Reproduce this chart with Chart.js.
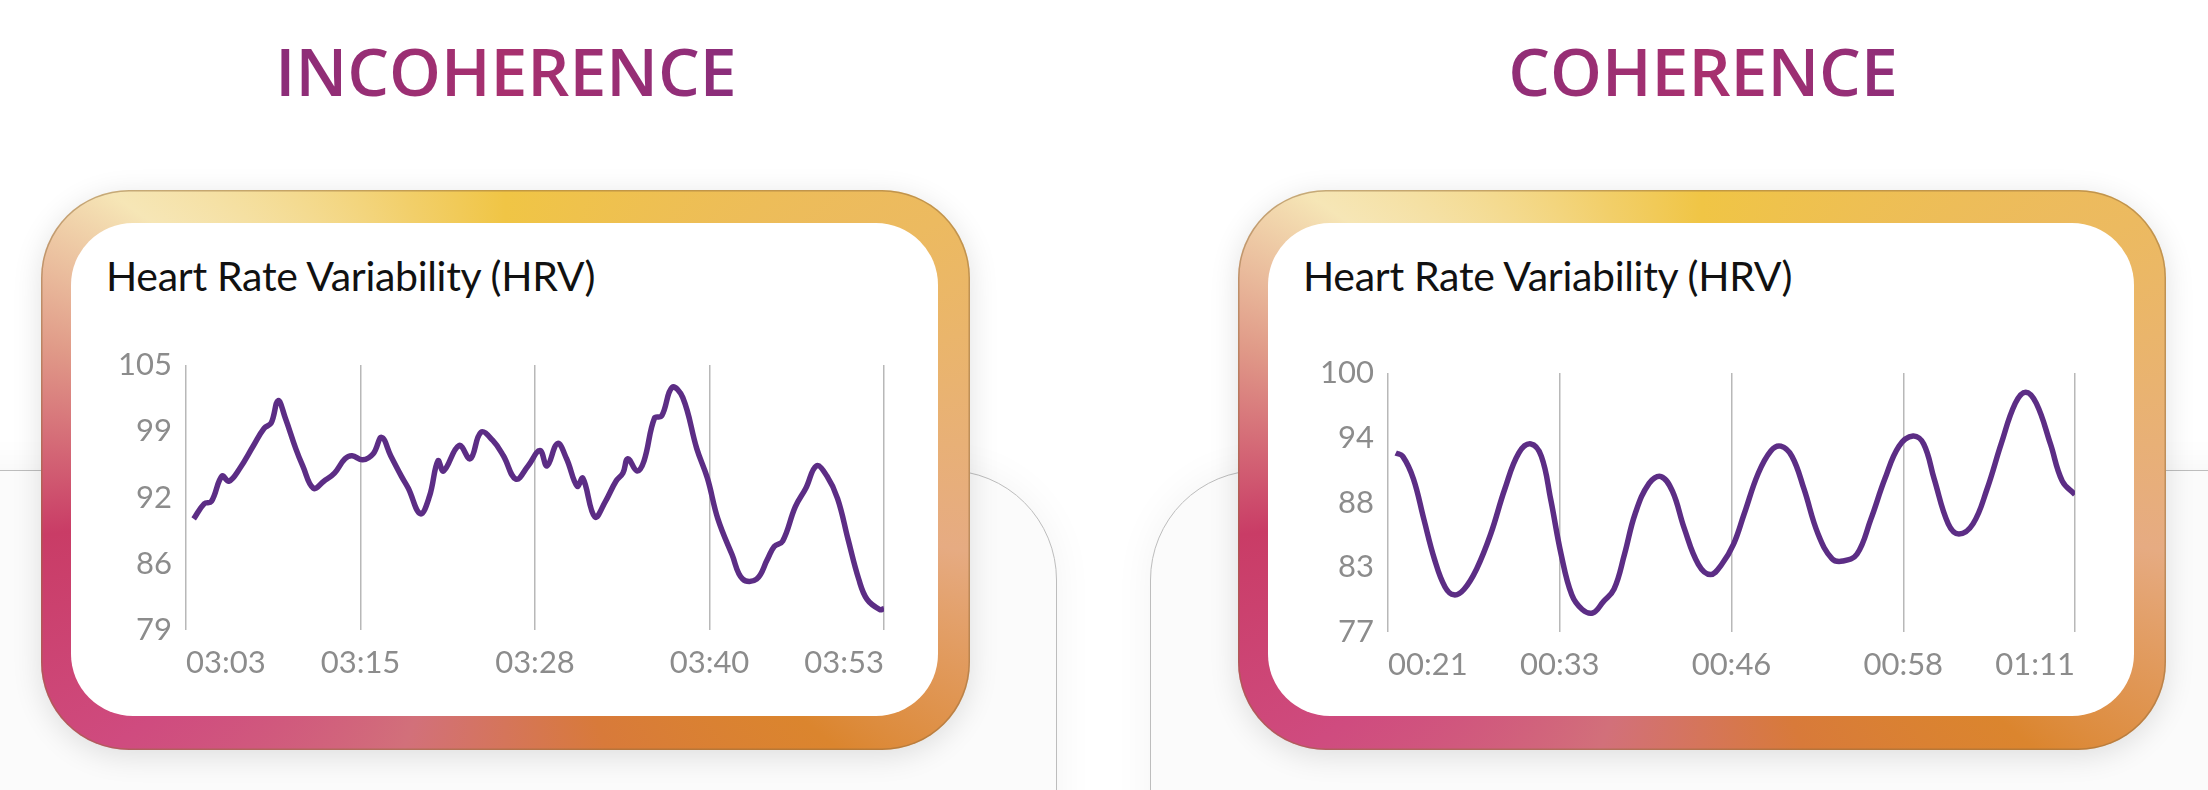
<!DOCTYPE html>
<html>
<head>
<meta charset="utf-8">
<script src="https://cdn.jsdelivr.net/npm/chart.js@4"></script>
<style>
    html, body { margin: 0; padding: 0; background: #fff; }
    body { width: 2208px; height: 790px; position: relative; overflow: hidden; font-family: Lato, sans-serif; }
    .heading {
        position: absolute; top: 30px; width: 700px; text-align: center;
        font-family: "Open Sans", sans-serif; font-weight: 600; font-size: 66px; line-height: 80px;
        background: linear-gradient(90deg, #7c2b7e, #a8306e 50%, #7a2b82);
        -webkit-background-clip: text; background-clip: text; color: transparent;
    }
    .backdrop {
        position: absolute; top: 470px; height: 500px; border: 1.5px solid #bdbdbd;
        border-radius: 110px; background: #fbfbfb; box-shadow: 0 0 40px rgba(0,0,0,0.05);
    }
    .card {
        position: absolute; top: 190px; height: 560px; border-radius: 88px;
        background: conic-gradient(from 0deg, #f0c545 0deg, #ecba60 60deg, #e6ab82 100deg, #db852e 130deg,
            #d87a3a 160deg, #d2707a 200deg, #cf4b7f 235deg, #c93c66 262deg, #e09a88 285deg, #f6e6b6 305deg,
            #f2cf6a 340deg, #f0c545 360deg);
        box-shadow: 0 6px 30px rgba(0,0,0,0.12), inset 0 0 0 1.5px rgba(150,110,60,0.5);
    }
    .inner { position: absolute; left: 30px; right: 32px; top: 33px; bottom: 34px; background: #fff; border-radius: 62px; }
    .inner canvas { position: absolute; left: 0; top: 0; }
    .ctitle { position: absolute; left: 35px; top: 28px; font-size: 41px; color: #111; font-weight: 400; letter-spacing: -0.3px; }
</style>
</head>
<body>
<div class="heading" style="left:156px">INCOHERENCE</div>
<div class="heading" style="left:1353px">COHERENCE</div>
<div class="backdrop" style="left:-200px; width:1255px"></div>
<div class="backdrop" style="left:1150px; width:1200px"></div>

<div class="card" style="left:41px; width:929px">
    <div class="inner"><div class="ctitle">Heart Rate Variability (HRV)</div><canvas id="incoherence"></canvas></div>
</div>
<div class="card" style="left:1238px; width:928px">
    <div class="inner"><div class="ctitle">Heart Rate Variability (HRV)</div><canvas id="coherence"></canvas></div>
</div>

<script>
// Incoherence trace: position along the time axis (0..4 gridlines) and HRV value
const incoherenceX = [0.044, 0.105, 0.145, 0.206, 0.246, 0.306, 0.387, 0.448, 0.488, 0.528, 0.569, 0.629, 0.669,
    0.730, 0.790, 0.851, 0.911, 0.952, 1.012, 1.073, 1.121, 1.173, 1.234, 1.274, 1.343, 1.395, 1.444, 1.476, 1.565,
    1.629, 1.690, 1.758, 1.819, 1.891, 1.960, 2.028, 2.069, 2.129, 2.181, 2.242, 2.274, 2.343, 2.403, 2.464, 2.504,
    2.532, 2.585, 2.625, 2.685, 2.726, 2.786, 2.847, 2.927, 2.988, 3.048, 3.129, 3.190, 3.270, 3.331, 3.371, 3.419,
    3.492, 3.552, 3.613, 3.673, 3.734, 3.794, 3.855, 3.903, 3.976, 4.0];
const incoherenceY = [89.9, 91.4, 91.6, 94.1, 93.6, 94.8, 97.1, 98.8, 99.3, 101.5, 99.8, 96.8, 95.1,
    92.9, 93.6, 94.4, 95.8, 96.1, 95.7, 96.3, 97.9, 96.1, 94.1, 92.9, 90.4, 92.1, 95.6, 94.6, 97.1,
    95.8, 98.4, 97.6, 96.1, 93.8, 95.1, 96.6, 95.1, 97.3, 95.8, 93.1, 93.9, 90.1, 91.6, 93.6, 94.4,
    95.8, 94.6, 95.6, 99.8, 100.0, 102.8, 101.8, 96.8, 93.9, 89.9, 86.4, 84.0, 84.0, 85.9, 87.2, 87.7,
    91.1, 92.9, 95.1, 94.1, 91.9, 87.9, 84.0, 82.0, 81.0, 81.1];
const incoherenceTicks = ["03:03", "03:15", "03:28", "03:40", "03:53"];
const incoherenceYLabels = ["79", "86", "92", "99", "105"];

const coherenceX = [0.045, 0.086, 0.148, 0.209, 0.270, 0.332, 0.385, 0.443, 0.516, 0.598, 0.680, 0.762, 0.832,
    0.893, 0.947, 1.008, 1.070, 1.131, 1.193, 1.254, 1.316, 1.377, 1.439, 1.520, 1.590, 1.656, 1.725, 1.807, 1.877,
    1.943, 2.012, 2.074, 2.156, 2.230, 2.287, 2.352, 2.422, 2.504, 2.586, 2.648, 2.730, 2.811, 2.893, 2.975, 3.057,
    3.119, 3.180, 3.262, 3.324, 3.406, 3.488, 3.570, 3.652, 3.713, 3.775, 3.857, 3.926, 4.0];
const coherenceY = [92.9, 92.6, 90.6, 87.0, 83.5, 81.0, 80.3, 80.8, 82.6, 85.7, 89.7, 92.9, 93.7,
    92.6, 88.8, 83.9, 80.3, 79.0, 78.7, 79.7, 80.8, 83.9, 87.5, 90.2, 90.8, 89.5, 86.2, 83.0, 82.1,
    83.0, 84.8, 87.5, 91.1, 93.1, 93.5, 92.6, 89.7, 85.7, 83.5, 83.3, 83.9, 87.0, 90.6, 93.5, 94.4,
    93.7, 90.6, 86.6, 85.7, 86.6, 89.7, 93.7, 97.3, 98.3, 97.3, 93.7, 90.4, 89.2];
const coherenceTicks = ["00:21", "00:33", "00:46", "00:58", "01:11"];
const coherenceYLabels = ["77", "83", "88", "94", "100"];

const tickFont = "31px Lato, sans-serif";
const tickColor = "#8c8c8c";

// draws the axis labels at positions taken from the chart scales
const labelPlugin = {
    id: "axisLabels",
    afterDraw(chart, args, opts) {
        const ctx = chart.ctx;
        const xs = chart.scales.x;
        const ys = chart.scales.y;
        ctx.save();
        ctx.font = tickFont;
        ctx.fillStyle = tickColor;
        ctx.textBaseline = "middle";
        ctx.textAlign = "right";
        opts.yLabels.forEach((label, i) => {
            const value = ys.min + (ys.max - ys.min) * i / (opts.yLabels.length - 1);
            ctx.fillText(label, xs.left - 14, ys.getPixelForValue(value));
        });
        const last = opts.xLabels.length - 1;
        opts.xLabels.forEach((label, i) => {
            ctx.textAlign = i === 0 ? "left" : (i === last ? "right" : "center");
            ctx.fillText(label, xs.getPixelForValue(i), ys.bottom + 33);
        });
        ctx.restore();
    }
};

function renderChart(canvasId, xValues, yValues, xLabels, yLabels, yMin, yMax, padding) {
    const canvas = document.getElementById(canvasId);
    const box = canvas.parentElement;
    canvas.width = box.clientWidth;
    canvas.height = box.clientHeight;
    return new Chart(canvas.getContext("2d"), {
        type: "line",
        data: {
            datasets: [{
                data: xValues.map((x, i) => ({x: x, y: yValues[i]})),
                borderColor: "#5c2d85",
                borderWidth: 5.5,
                pointRadius: 0,
                tension: 0.4,
                fill: false
            }]
        },
        options: {
            responsive: false,
            animation: false,
            layout: {padding: padding},
            plugins: {legend: {display: false}, tooltip: {enabled: false}, axisLabels: {xLabels, yLabels}},
            scales: {
                x: {
                    type: "linear", min: 0, max: 4,
                    ticks: {display: false, stepSize: 1},
                    grid: {color: "#b8b8b8", lineWidth: 1.5, drawTicks: false},
                    border: {display: false}
                },
                y: {min: yMin, max: yMax, display: false}
            }
        },
        plugins: [labelPlugin]
    });
}

// card inner boxes: left (71,223) right (1268,223)
renderChart("incoherence", incoherenceX, incoherenceY, incoherenceTicks, incoherenceYLabels, 79, 105,
    {left: 115, right: 54, top: 142, bottom: 86});
renderChart("coherence", coherenceX, coherenceY, coherenceTicks, coherenceYLabels, 77, 100,
    {left: 120, right: 59, top: 150, bottom: 84});
</script>
</body>
</html>
